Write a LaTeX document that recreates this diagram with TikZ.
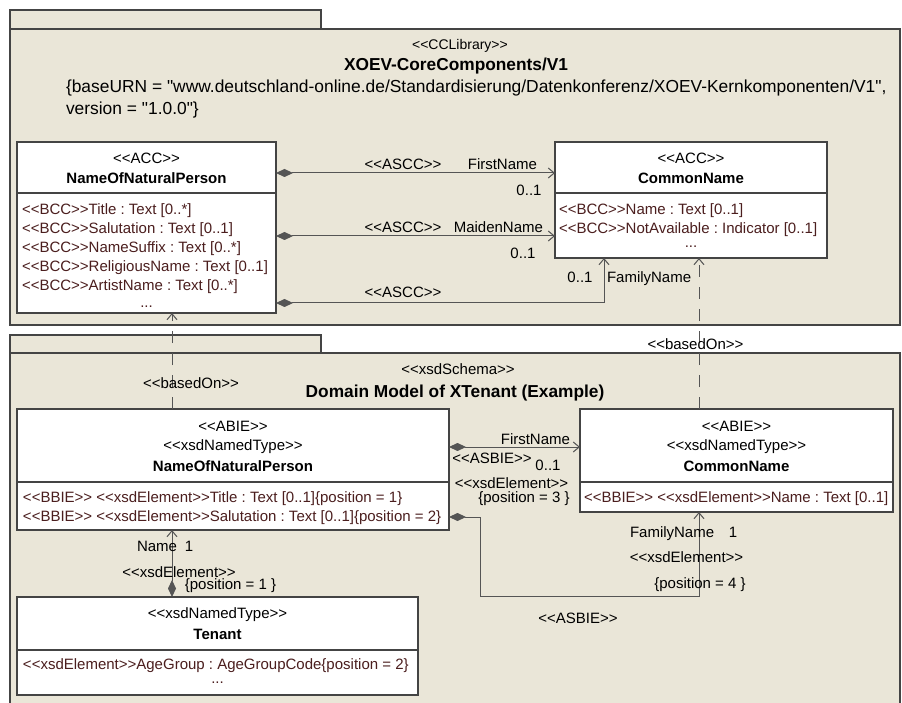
\documentclass[tikz,border=0pt]{standalone}
\usepackage{fontspec}
\setmainfont{Liberation Sans}[Ligatures=TeXOff]
\frenchspacing
\usetikzlibrary{arrows.meta,calc}
\definecolor{pkgfill}{RGB}{234,230,216}
\definecolor{pkgline}{RGB}{68,68,68}
\definecolor{attr}{RGB}{75,30,30}
\definecolor{wire}{RGB}{85,85,85}

\begin{document}
\begin{tikzpicture}[x=1pt,y=-1pt,
  txt/.style={inner sep=0pt, outer sep=0pt, text height=13pt, text depth=2.5pt,
              font=\fontsize{15}{18}\selectfont},
  cname/.style={txt, font=\fontsize{15}{18}\selectfont\bfseries},
  attrib/.style={txt, anchor=west, text=attr},
  ptitle/.style={inner sep=0pt, outer sep=0pt, text height=15pt, text depth=3pt,
                 font=\fontsize{17.3}{20}\selectfont\bfseries},
  ptag/.style={inner sep=0pt, outer sep=0pt, text height=15pt, text depth=3pt,
               font=\fontsize{17.4}{20}\selectfont, anchor=west},
  pkg/.style={draw=pkgline, fill=pkgfill, line width=1.3pt},
  classbox/.style={draw=pkgline, fill=white, line width=1.1pt, inner sep=0pt,
                   outer sep=0pt, anchor=north west},
  divider/.style={draw=pkgline, line width=1.1pt},
  wireline/.style={draw=wire, line width=1pt},
  comp/.style={wireline, {Diamond[length=17pt,width=8pt,fill=wire]}-{Straight Barb[length=6pt,width=10pt]}},
  based/.style={wireline, dash pattern=on 12pt off 10pt, -{Straight Barb[length=6pt,width=10pt]}}
]
\useasboundingbox (0,0) rectangle (902,703);

% ---------- packages ----------
\path[pkg] (10,10) rectangle (321,29);
\path[pkg] (10,29) rectangle (900,325);
\path[pkg] (10,335) rectangle (321,353);
\path[pkg] (10,353) rectangle (900,715);

% ---------- core component library ----------
\node[txt, font=\fontsize{14}{17}\selectfont] (libSt) at (460,44) {<<CCLibrary>>};
\node[ptitle] (libName) at (456,65) {XOEV-CoreComponents/V1};
\node[ptag] (libUrn) at (66,87)
  {\{baseURN = "www.deutschland-online.de/Standardisierung/Datenkonferenz/XOEV-Kernkomponenten/V1",};
\node[ptag] (libVer) at (66,109) {version = "1.0.0"\}};

% ACC NameOfNaturalPerson
\node[classbox, minimum width=259pt, minimum height=171pt] (accNP) at (17,142) {};
\draw[divider] ($(accNP.north west)+(0,51)$) -- ($(accNP.north east)+(0,51)$);
\node[txt] (accNPst) at (146.5,158) {<<ACC>>};
\node[cname] (accNPnm) at (146.5,178) {NameOfNaturalPerson};
\node[attrib] (accNPa1) at (22,209) {<<BCC>>Title : Text [0..*]};
\node[attrib] (accNPa2) at (22,228) {<<BCC>>Salutation : Text [0..1]};
\node[attrib] (accNPa3) at (22,247) {<<BCC>>NameSuffix : Text [0..*]};
\node[attrib] (accNPa4) at (22,266) {<<BCC>>ReligiousName : Text [0..1]};
\node[attrib] (accNPa5) at (22,285) {<<BCC>>ArtistName : Text [0..*]};
\node[txt, text=attr] (accNPa6) at (146.5,302) {...};

% ACC CommonName
\node[classbox, minimum width=272pt, minimum height=116pt] (accCN) at (555,142) {};
\draw[divider] ($(accCN.north west)+(0,51)$) -- ($(accCN.north east)+(0,51)$);
\node[txt] (accCNst) at (691,158) {<<ACC>>};
\node[cname] (accCNnm) at (691,178) {CommonName};
\node[attrib] (accCNa1) at (559,209) {<<BCC>>Name : Text [0..1]};
\node[attrib] (accCNa2) at (559,228) {<<BCC>>NotAvailable : Indicator [0..1]};
\node[txt, text=attr] (accCNa3) at (691,242) {...};

% ASCC associations
\draw[comp] ($(accNP.north east)+(0,31)$) -- ($(accCN.north west)+(0,31)$);
\draw[comp] ($(accNP.north east)+(0,94)$) -- ($(accCN.north west)+(0,94)$);
\draw[comp] ($(accNP.north east)+(0,161)$) -| ($(accCN.south west)+(49,0)$);

\node[txt] (ascc1) at (403,164) {<<ASCC>>};
\node[txt, anchor=east] (ascc1r) at (537,164) {FirstName};
\node[txt] (ascc1m) at (529,190) {0..1};
\node[txt] (ascc2) at (403,227) {<<ASCC>>};
\node[txt, anchor=east] (ascc2r) at (543,227) {MaidenName};
\node[txt] (ascc2m) at (523,253) {0..1};
\node[txt] (ascc3) at (403,292) {<<ASCC>>};
\node[txt] (ascc3m) at (580,277) {0..1};
\node[txt, anchor=west] (ascc3r) at (607,277) {FamilyName};

% ---------- domain model ----------
\node[txt] (schSt) at (458,369) {<<xsdSchema>>};
\node[ptitle] (schName) at (455,391) {Domain Model of XTenant (Example)};

% ABIE NameOfNaturalPerson
\node[classbox, minimum width=432pt, minimum height=121pt] (abieNP) at (17,409) {};
\draw[divider] ($(abieNP.north west)+(0,73)$) -- ($(abieNP.north east)+(0,73)$);
\node[txt] (abieNPst1) at (233,426) {<<ABIE>>};
\node[txt] (abieNPst2) at (233,445) {<<xsdNamedType>>};
\node[cname] (abieNPnm) at (233,466) {NameOfNaturalPerson};
\node[attrib] (abieNPa1) at (23,497) {<<BBIE>> <<xsdElement>>Title : Text [0..1]\{position = 1\}};
\node[attrib] (abieNPa2) at (23,516) {<<BBIE>> <<xsdElement>>Salutation : Text [0..1]\{position = 2\}};

% ABIE CommonName
\node[classbox, minimum width=313pt, minimum height=103pt] (abieCN) at (580,409) {};
\draw[divider] ($(abieCN.north west)+(0,73)$) -- ($(abieCN.north east)+(0,73)$);
\node[txt] (abieCNst1) at (736.5,426) {<<ABIE>>};
\node[txt] (abieCNst2) at (736.5,445) {<<xsdNamedType>>};
\node[cname] (abieCNnm) at (736.5,466) {CommonName};
\node[attrib] (abieCNa1) at (584,497) {<<BBIE>> <<xsdElement>>Name : Text [0..1]};

% Tenant
\node[classbox, minimum width=401pt, minimum height=98pt] (tenant) at (17,597) {};
\draw[divider] ($(tenant.north west)+(0,53)$) -- ($(tenant.north east)+(0,53)$);
\node[txt] (tenSt) at (217.5,613) {<<xsdNamedType>>};
\node[cname] (tenNm) at (217.5,634) {Tenant};
\node[attrib] (tenA1) at (23,664) {<<xsdElement>>AgeGroup : AgeGroupCode\{position = 2\}};
\node[txt, text=attr] (tenA2) at (217.5,678) {...};

% ASBIE associations
\draw[comp] ($(abieNP.north east)+(0,38)$) -- ($(abieCN.north west)+(0,38)$);
\draw[comp] ($(abieNP.south east)+(0,-13)$) -- ++(31,0) -- ++(0,79)
  -| ($(abieCN.south west)+(119,0)$);
\draw[comp] ($(tenant.north west)+(155,0)$) -- ($(abieNP.south west)+(155,0)$);

\node[txt, anchor=east] (asb1r) at (570,439) {FirstName};
\node[txt] (asb1) at (492,458) {<<ASBIE>>};
\node[txt] (asb1m) at (548,465) {0..1};
\node[txt] (asb1s) at (511.5,483) {<<xsdElement>>};
\node[txt] (asb1p) at (524,497) {\{position = 3 \}};

\node[txt, anchor=west] (asb2r) at (630,532) {FamilyName};
\node[txt] (asb2m) at (733,532) {1};
\node[txt] (asb2s) at (686.5,557) {<<xsdElement>>};
\node[txt] (asb2p) at (700,583) {\{position = 4 \}};
\node[txt] (asb2) at (578,618) {<<ASBIE>>};

\node[txt, anchor=west] (asb3r) at (137,546) {Name};
\node[txt] (asb3m) at (189,546) {1};
\node[txt] (asb3s) at (179,572) {<<xsdElement>>};
\node[txt] (asb3p) at (230.5,584) {\{position = 1 \}};

% basedOn dependencies
\draw[based] ($(abieNP.north west)+(155,0)$) -- ($(accNP.south west)+(155,0)$);
\draw[based] ($(abieCN.north west)+(119,0)$) -- ($(accCN.south west)+(144,0)$);
\node[txt] (bo1) at (191,383) {<<basedOn>>};
\node[txt] (bo2) at (695.5,344) {<<basedOn>>};

\end{tikzpicture}
\end{document}
